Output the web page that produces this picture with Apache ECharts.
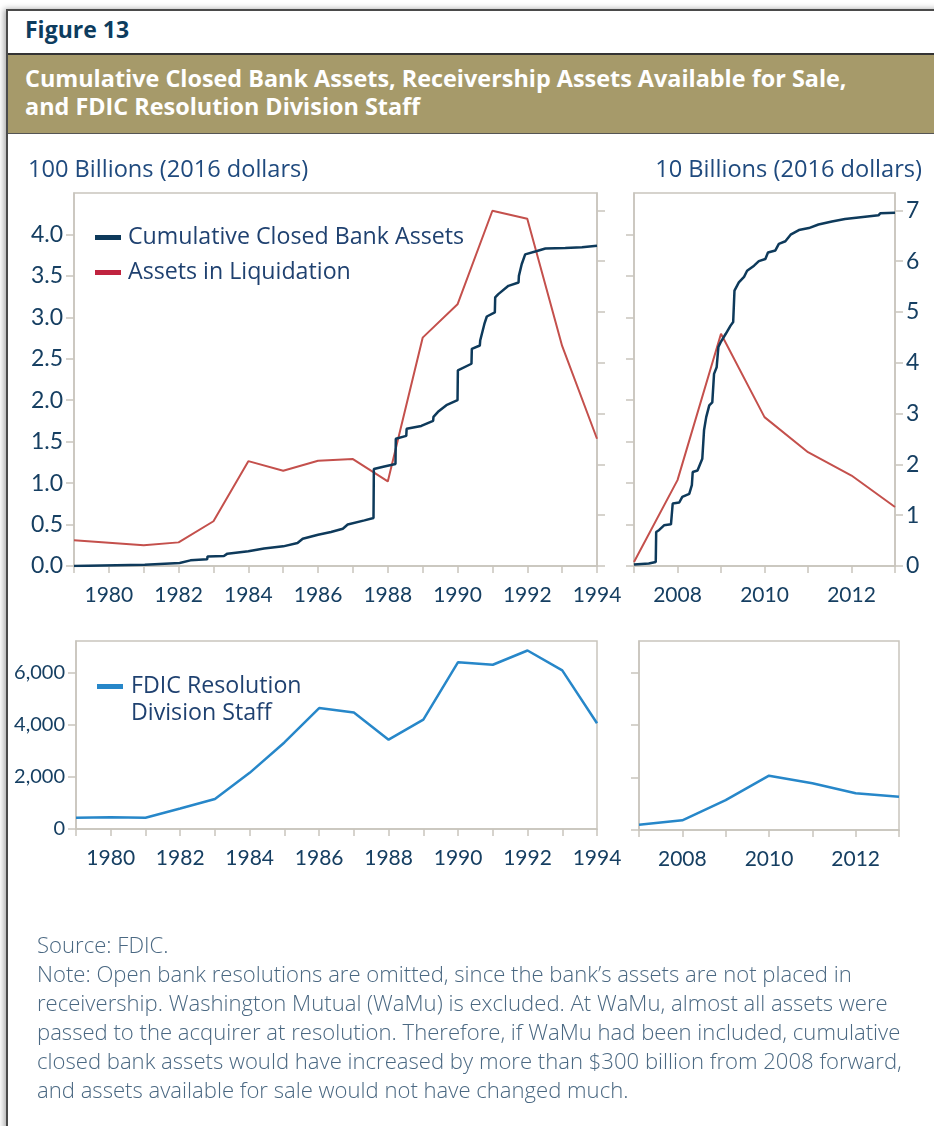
<!DOCTYPE html>
<html>
<head>
<meta charset="utf-8">
<script src="https://cdn.jsdelivr.net/npm/echarts@6/dist/echarts.min.js"></script>
<style>
  body { margin: 0; width: 934px; height: 1126px; overflow: hidden; background: #fff; font-family: "Open Sans", Lato, sans-serif; }
  #frame { position: absolute; left: 6px; top: 9px; width: 1000px; height: 1200px; border: 2px solid #4a4a4a; box-shadow: -2px 0 6px rgba(0,0,0,0.35); background: #fff; }
  #fig { position: absolute; left: 25px; top: 13px; font-weight: 700; font-size: 23px; color: #0d3c5e; }
  #band { position: absolute; left: 8px; top: 53px; width: 1000px; height: 78px; background: #a69a6a; border-top: 2px solid #333; border-bottom: 1px solid #555; }
  #band div { position: absolute; left: 17px; top: 9px; color: #fff; font-weight: 700; font-size: 23.4px; line-height: 28px; }
  #chart { position: absolute; left: 0; top: 0; width: 934px; height: 1126px; }
  #notes { position: absolute; left: 37px; top: 930px; font-size: 22.1px; font-weight: 300; line-height: 29px; color: #4a6882; white-space: pre; }
</style>
</head>
<body>
<div id="frame"></div>
<div id="fig">Figure 13</div>
<div id="band"><div>Cumulative Closed Bank Assets, Receivership Assets Available for Sale,<br>and FDIC Resolution Division Staff</div></div>
<div id="chart"></div>
<div id="notes">Source: FDIC.
Note: Open bank resolutions are omitted, since the bank’s assets are not placed in
receivership. Washington Mutual (WaMu) is excluded. At WaMu, almost all assets were
passed to the acquirer at resolution. Therefore, if WaMu had been included, cumulative
closed bank assets would have increased by more than $300 billion from 2008 forward,
and assets available for sale would not have changed much.</div>
<script>
// early period 1979-1994, hundreds of billions (2016 dollars)
const yearsEarly = [1979, 1980, 1981, 1982, 1983, 1984, 1985, 1986, 1987, 1988, 1989, 1990, 1991, 1992, 1993, 1994];
const liqEarly = [0.31, 0.28, 0.25, 0.285, 0.54, 1.265, 1.15, 1.27, 1.29, 1.02, 2.755, 3.157, 4.286, 4.19, 2.655, 1.535];
const staffEarly = [430, 450, 430, 785, 1150, 2150, 3315, 4630, 4460, 3420, 4190, 6390, 6290, 6835, 6075, 4050];
// cumulative closed bank assets, [year, value]
const cbaEarly = [
  [1979, 0], [1981.03, 0.016], [1982.03, 0.036], [1982.34, 0.068], [1982.82, 0.08], [1982.83, 0.116],
  [1983.3, 0.12], [1983.4, 0.149], [1984.0, 0.177], [1984.45, 0.21], [1985.0, 0.237], [1985.41, 0.277],
  [1985.56, 0.329], [1986.0, 0.378], [1986.37, 0.41], [1986.71, 0.45], [1986.85, 0.5], [1987.33, 0.55],
  [1987.59, 0.58], [1987.6, 1.17], [1987.9, 1.2], [1988.22, 1.23], [1988.23, 1.535], [1988.53, 1.57],
  [1988.54, 1.655], [1988.96, 1.69], [1989.3, 1.75], [1989.31, 1.8], [1989.44, 1.86], [1989.68, 1.94],
  [1990.0, 2.0], [1990.01, 2.36], [1990.4, 2.44], [1990.41, 2.62], [1990.64, 2.66], [1990.65, 2.72],
  [1990.77, 2.92], [1990.84, 3.01], [1991.07, 3.06], [1991.08, 3.24], [1991.17, 3.28], [1991.46, 3.38],
  [1991.75, 3.42], [1991.76, 3.5], [1991.84, 3.64], [1991.94, 3.76], [1991.99, 3.78], [1992.28, 3.8],
  [1992.52, 3.83], [1993.09, 3.835], [1993.57, 3.845], [1994.0, 3.865]
];
// late period 2007-2013, tens of billions (2016 dollars)
const yearsLate = [2007, 2008, 2009, 2010, 2011, 2012, 2013];
const liqLate = [0.08, 1.69, 4.57, 2.93, 2.24, 1.78, 1.16];
const staffLate = [200, 370, 1140, 2070, 1780, 1400, 1270];
const cbaLate = [
  [2007.0, 0.03], [2007.34, 0.05], [2007.35, 0.08], [2007.5, 0.08], [2007.51, 0.67], [2007.58, 0.71],
  [2007.69, 0.8], [2007.85, 0.82], [2007.89, 1.23], [2008.04, 1.25], [2008.11, 1.36], [2008.27, 1.42],
  [2008.33, 1.59], [2008.35, 1.85], [2008.46, 1.88], [2008.57, 2.11], [2008.61, 2.67], [2008.66, 2.93],
  [2008.73, 3.16], [2008.8, 3.22], [2008.84, 3.78], [2008.9, 3.91], [2008.94, 4.31], [2008.99, 4.4],
  [2009.11, 4.57], [2009.22, 4.73], [2009.28, 4.8], [2009.31, 5.42], [2009.41, 5.58], [2009.53, 5.69],
  [2009.6, 5.81], [2009.76, 5.91], [2009.87, 6.0], [2010.02, 6.04], [2010.08, 6.17], [2010.25, 6.21],
  [2010.33, 6.34], [2010.48, 6.39], [2010.6, 6.52], [2010.79, 6.61], [2011.02, 6.65], [2011.24, 6.72],
  [2011.55, 6.78], [2011.85, 6.83], [2012.16, 6.86], [2012.62, 6.9], [2012.66, 6.94], [2013.0, 6.95]
];
const leftTicks = [0, 0.5, 1, 1.5, 2, 2.5, 3, 3.5, 4];
const rightTicks = [0, 1, 2, 3, 4, 5, 6, 7];
const staffTicks = [0, 2000, 4000, 6000];

const navy = '#0e3a5b';
const red = '#c4504c';
const blue = '#2787c9';
const gridGray = '#c9c5bd';
const labelColor = '#163f62';
const tickFont = 'Lato, "Open Sans", sans-serif';
const textFont = '"Open Sans", Lato, sans-serif';

const pair = (xs, ys) => xs.map((x, i) => [x, ys[i]]);

function xAx(grid, min, max) {
  return {
    type: 'value', gridIndex: grid, min: min, max: max, interval: 1,
    splitLine: { show: false },
    axisLine: { lineStyle: { color: gridGray, width: 1.5 } },
    axisTick: { length: 7, lineStyle: { color: gridGray, width: 1.5 } },
    axisLabel: {
      margin: 19, fontSize: 21, color: labelColor, fontFamily: tickFont,
      formatter: v => (v % 2 === 0 ? String(v) : '')
    }
  };
}

function yAx(grid, pos, max, ticks, showLabel, fmt, size) {
  return {
    type: 'value', gridIndex: grid, position: pos, min: 0, max: max,
    splitLine: { show: false },
    axisLine: { show: true, lineStyle: { color: gridGray, width: 1.5 } },
    axisTick: { show: true, length: 8, customValues: ticks, lineStyle: { color: gridGray, width: 1.5 } },
    axisLabel: {
      show: showLabel, customValues: ticks, margin: 11, fontSize: size || 22,
      color: labelColor, fontFamily: tickFont, formatter: fmt
    }
  };
}

const chart = echarts.init(document.getElementById('chart'));
chart.setOption({
  animation: false,
  textStyle: { fontFamily: textFont },
  grid: [
    { left: 74, top: 193, width: 523, height: 373, show: true, borderColor: gridGray, borderWidth: 1.5 },
    { left: 634, top: 193, width: 261, height: 373, show: true, borderColor: gridGray, borderWidth: 1.5 },
    { left: 76, top: 641, width: 521, height: 188, show: true, borderColor: gridGray, borderWidth: 1.5 },
    { left: 639, top: 641, width: 260, height: 189, show: true, borderColor: gridGray, borderWidth: 1.5 }
  ],
  xAxis: [xAx(0, 1979, 1994), xAx(1, 2007, 2013), xAx(2, 1979, 1994), xAx(3, 2007, 2013)],
  yAxis: [
    yAx(0, 'left', 4.5, leftTicks, true, v => v.toFixed(1), 23),
    yAx(0, 'right', 7.34, rightTicks, false),
    yAx(1, 'left', 4.5, leftTicks, false),
    yAx(1, 'right', 7.34, rightTicks, true, v => String(v), 23),
    yAx(2, 'left', 7200, staffTicks, true, v => v.toLocaleString('en-US'), 20),
    yAx(3, 'left', 7200, staffTicks, false)
  ],
  legend: [
    {
      left: 95, top: 226, padding: 0, orient: 'vertical', itemGap: 12, itemWidth: 26, itemHeight: 5, icon: 'rect',
      selectedMode: false,
      textStyle: { fontSize: 23.2, lineHeight: 23, color: '#1f4170', fontFamily: textFont, padding: [0, 0, 0, 2] },
      data: [
        { name: 'Cumulative Closed Bank Assets', itemStyle: { color: navy } },
        { name: 'Assets in Liquidation', itemStyle: { color: '#c0233f' } }
      ]
    },
    {
      left: 97, top: 673, padding: 0, orient: 'vertical', itemWidth: 26, itemHeight: 32,
      icon: 'path://M0,0h26v5h-26z M0,31.99h0.01v0.01h-0.01z',
      selectedMode: false,
      formatter: () => 'FDIC Resolution\nDivision Staff',
      textStyle: { fontSize: 23.2, lineHeight: 27, color: '#1f4170', fontFamily: textFont, padding: [0, 0, 0, 3] },
      data: [{ name: 'FDIC Resolution Division Staff', itemStyle: { color: blue } }]
    }
  ],
  graphic: [
    { type: 'text', left: 28, top: 158, style: { text: '100 Billions (2016 dollars)', font: '23.6px ' + textFont, fill: '#1f4a7e' } },
    { type: 'text', right: 12, top: 158, style: { text: '10 Billions (2016 dollars)', font: '23.6px ' + textFont, fill: '#1f4a7e' } }
  ],
  series: [
    { name: 'Assets in Liquidation', type: 'line', xAxisIndex: 0, yAxisIndex: 0, data: pair(yearsEarly, liqEarly),
      showSymbol: false, lineStyle: { color: red, width: 2 }, itemStyle: { color: red } },
    { name: 'Cumulative Closed Bank Assets', type: 'line', xAxisIndex: 0, yAxisIndex: 0, data: cbaEarly,
      showSymbol: false, lineStyle: { color: navy, width: 2.5 }, itemStyle: { color: navy } },
    { name: 'Assets in Liquidation', type: 'line', xAxisIndex: 1, yAxisIndex: 3, data: pair(yearsLate, liqLate),
      showSymbol: false, lineStyle: { color: red, width: 2 }, itemStyle: { color: red } },
    { name: 'Cumulative Closed Bank Assets', type: 'line', xAxisIndex: 1, yAxisIndex: 3, data: cbaLate,
      showSymbol: false, lineStyle: { color: navy, width: 2.5 }, itemStyle: { color: navy } },
    { name: 'FDIC Resolution Division Staff', type: 'line', xAxisIndex: 2, yAxisIndex: 4, data: pair(yearsEarly, staffEarly),
      showSymbol: false, lineStyle: { color: blue, width: 2.5 }, itemStyle: { color: blue } },
    { name: 'FDIC Resolution Division Staff', type: 'line', xAxisIndex: 3, yAxisIndex: 5, data: pair(yearsLate, staffLate),
      showSymbol: false, lineStyle: { color: blue, width: 2.5 }, itemStyle: { color: blue } }
  ]
});
</script>
</body>
</html>
